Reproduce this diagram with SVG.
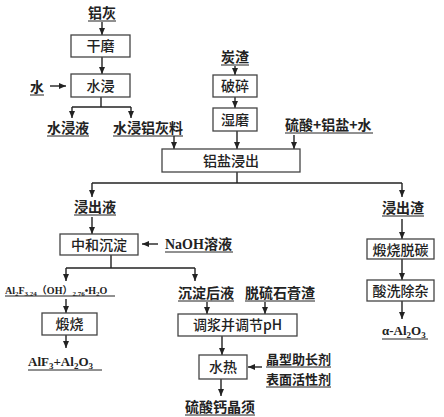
<svg xmlns="http://www.w3.org/2000/svg" width="444" height="417" viewBox="0 0 444 417">
<defs>
<marker id="ah" markerUnits="userSpaceOnUse" markerWidth="8" markerHeight="8" viewBox="0 0 8 8" refX="7" refY="4" orient="auto">
<path d="M0,1 L7,4 L0,7 Z" fill="#222"/>
</marker>
</defs>
<style>
.box{fill:#fff;stroke:#444;stroke-width:1.3}
.bt{font-family:"Noto Sans CJK SC","Noto Sans",sans-serif;font-size:14px;font-weight:500;fill:#222;text-anchor:middle}
.lb{font-family:"Noto Sans CJK SC","Noto Sans",sans-serif;font-size:14px;font-weight:700;fill:#222}
.sm{font-size:13px}
.ch{font-family:"Liberation Serif","Noto Sans CJK SC",serif;font-weight:700;fill:#222}
.ul{stroke:#222;stroke-width:1}
.c{fill:none;stroke:#222;stroke-width:1.4}
.a{fill:none;stroke:#222;stroke-width:1.4;marker-end:url(#ah)}
</style>
<rect width="444" height="417" fill="#fff"/>

<g id="connectors">
<line class="a" x1="102" y1="22" x2="102" y2="35"/>
<line class="a" x1="102" y1="57" x2="102" y2="74"/>
<line class="a" x1="50" y1="86" x2="66" y2="86"/>
<polyline class="c" points="101,97 101,107"/>
<polyline class="c" points="72,107 131,107"/>
<line class="a" x1="72" y1="107" x2="72" y2="118"/>
<line class="a" x1="131" y1="107" x2="131" y2="118"/>
<line class="a" x1="174" y1="136" x2="174" y2="149"/>
<line class="a" x1="235" y1="66" x2="235" y2="75"/>
<line class="a" x1="235" y1="97" x2="235" y2="108"/>
<line class="a" x1="237" y1="131" x2="237" y2="149"/>
<line class="a" x1="294" y1="135" x2="294" y2="149"/>
<polyline class="c" points="237,172 237,183"/>
<polyline class="c" points="92,183 402,183"/>
<line class="a" x1="92" y1="183" x2="92" y2="197"/>
<line class="a" x1="402" y1="183" x2="402" y2="197"/>
<line class="a" x1="92" y1="217" x2="92" y2="234"/>
<line class="a" x1="158" y1="244" x2="142" y2="244"/>
<polyline class="c" points="111,255 111,268"/>
<polyline class="c" points="66,268 195,268"/>
<line class="a" x1="66" y1="268" x2="66" y2="281"/>
<line class="a" x1="195" y1="268" x2="195" y2="281"/>
<line class="a" x1="66" y1="299" x2="66" y2="313"/>
<line class="a" x1="66" y1="335" x2="66" y2="348"/>
<line class="a" x1="207" y1="302" x2="207" y2="314"/>
<line class="a" x1="265" y1="302" x2="265" y2="314"/>
<line class="a" x1="222" y1="336" x2="222" y2="355"/>
<line class="a" x1="262" y1="367" x2="248" y2="367"/>
<line class="a" x1="221" y1="379" x2="221" y2="396"/>
<line class="a" x1="402" y1="219" x2="402" y2="239"/>
<line class="a" x1="402" y1="259" x2="402" y2="280"/>
<line class="a" x1="402" y1="301" x2="402" y2="319"/>
</g>

<g id="n-lvhui"><text class="lb" x="88" y="18">铝灰</text><line class="ul" x1="88" y1="21" x2="116" y2="21"/></g>
<g id="n-ganmo"><rect class="box" x="71" y="35" width="59" height="22"/><text class="bt" x="100.5" y="51">干磨</text></g>
<g id="n-shui"><text class="lb" x="30" y="92">水</text><line class="ul" x1="30" y1="95" x2="44" y2="95"/></g>
<g id="n-shuijin"><rect class="box" x="71" y="74" width="59" height="23"/><text class="bt" x="100.5" y="90.5">水浸</text></g>
<g id="n-shuijinye"><text class="lb" x="47" y="133">水浸液</text><line class="ul" x1="47" y1="136" x2="89" y2="136"/></g>
<g id="n-shuijinliao"><text class="lb" x="113" y="133">水浸铝灰料</text><line class="ul" x1="113" y1="136" x2="183" y2="136"/></g>

<g id="n-tanzha"><text class="lb" x="221" y="62">炭渣</text><line class="ul" x1="221" y1="65" x2="249" y2="65"/></g>
<g id="n-posui"><rect class="box" x="213" y="75" width="44" height="22"/><text class="bt" x="235" y="91">破碎</text></g>
<g id="n-shimo"><rect class="box" x="213" y="108" width="44" height="23"/><text class="bt" x="235" y="124.5">湿磨</text></g>
<g id="n-liusuan"><text class="lb" x="285" y="130">硫酸+铝盐+水</text><line class="ul" x1="285" y1="133" x2="373" y2="133"/></g>
<g id="n-jinchu"><rect class="box" x="162" y="149" width="138" height="23"/><text class="bt" x="231" y="165.5">铝盐浸出</text></g>

<g id="n-jinchuye"><text class="lb" x="74" y="212">浸出液</text><line class="ul" x1="74" y1="215" x2="116" y2="215"/></g>
<g id="n-zhonghe"><rect class="box" x="60" y="234" width="78" height="21"/><text class="bt" x="99" y="249.5">中和沉淀</text></g>
<g id="n-naoh"><text class="lb" x="165" y="249"><tspan class="ch" font-size="14">NaOH</tspan>溶液</text><line class="ul" x1="165" y1="252" x2="233" y2="252"/></g>
<g id="n-alf"><text class="ch" x="5" y="294" font-size="10">Al<tspan font-size="7" dy="2">2</tspan><tspan dy="-2">F</tspan><tspan font-size="7" dy="2">3.24</tspan><tspan dy="-2" font-family="Noto Sans CJK SC">（</tspan>OH<tspan font-family="Noto Sans CJK SC">）</tspan><tspan font-size="7" dy="2">2.76</tspan><tspan dy="-2">•H</tspan><tspan font-size="7" dy="2">2</tspan><tspan dy="-2">O</tspan></text><line class="ul" x1="5" y1="296" x2="115" y2="296"/></g>
<g id="n-duanshao"><rect class="box" x="42" y="313" width="55" height="22"/><text class="bt" x="69.5" y="329">煅烧</text></g>
<g id="n-alf3"><text class="ch" x="28" y="366" font-size="13">AlF<tspan font-size="9" dy="3">3</tspan><tspan dy="-3">+Al</tspan><tspan font-size="9" dy="3">2</tspan><tspan dy="-3">O</tspan><tspan font-size="9" dy="3">3</tspan></text><line class="ul" x1="28" y1="370" x2="102" y2="370"/></g>

<g id="n-chendianhouye"><text class="lb" x="178" y="298">沉淀后液</text><line class="ul" x1="178" y1="301" x2="234" y2="301"/></g>
<g id="n-tuoliu"><text class="lb" x="245" y="298">脱硫石膏渣</text><line class="ul" x1="245" y1="301" x2="315" y2="301"/></g>
<g id="n-tiaojiang"><rect class="box" x="178" y="314" width="119" height="22"/><text class="bt" x="237.5" y="330">调浆并调节pH</text></g>
<g id="n-shuire"><rect class="box" x="199" y="355" width="48" height="24"/><text class="bt" x="223" y="372">水热</text></g>
<g id="n-jingxing"><text class="lb sm" x="266" y="364">晶型助长剂</text><line class="ul" x1="266" y1="367" x2="331" y2="367"/><text class="lb sm" x="266" y="384">表面活性剂</text><line class="ul" x1="266" y1="387" x2="331" y2="387"/></g>
<g id="n-jingxu"><text class="lb" x="185" y="412">硫酸钙晶须</text><line class="ul" x1="185" y1="415" x2="255" y2="415"/></g>

<g id="n-jinchuzha"><text class="lb" x="382" y="213">浸出渣</text><line class="ul" x1="382" y1="216" x2="424" y2="216"/></g>
<g id="n-tuotan"><rect class="box" x="367" y="239" width="67" height="20"/><text class="bt" x="400.5" y="254.5">煅烧脱碳</text></g>
<g id="n-suanxi"><rect class="box" x="367" y="280" width="67" height="21"/><text class="bt" x="400.5" y="295.5">酸洗除杂</text></g>
<g id="n-alpha"><text class="ch" x="382" y="335" font-size="13">α-Al<tspan font-size="9" dy="3">2</tspan><tspan dy="-3">O</tspan><tspan font-size="9" dy="3">3</tspan></text><line class="ul" x1="382" y1="339" x2="428" y2="339"/></g>
</svg>
